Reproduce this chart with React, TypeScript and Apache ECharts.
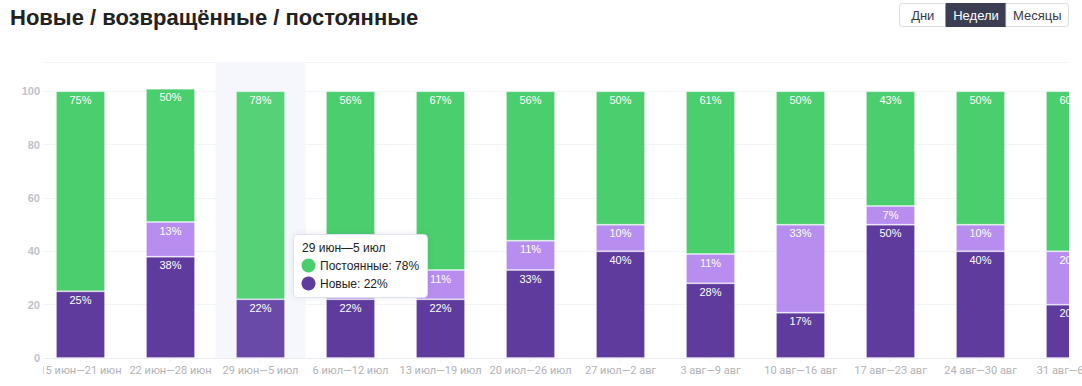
import React, { useEffect, useRef } from 'react';
import * as echarts from 'echarts';

const categories = [
  '15 июн—21 июн',
  '22 июн—28 июн',
  '29 июн—5 июл',
  '6 июл—12 июл',
  '13 июл—19 июл',
  '20 июл—26 июл',
  '27 июл—2 авг',
  '3 авг—9 авг',
  '10 авг—16 авг',
  '17 авг—23 авг',
  '24 авг—30 авг',
  '31 авг—6 сен',
];
const newUsers = [25, 38, 22, 22, 22, 33, 40, 28, 17, 50, 40, 20];
const returningUsers: (number | null)[] = [null, 13, null, 22, 11, 11, 10, 11, 33, 7, 10, 20];
const permanentUsers = [75, 50, 78, 56, 67, 56, 50, 61, 50, 43, 50, 60];
const yMax = 111;
const yInterval = 20;
const highlightIndex = 2;
const hiddenReturningLabel = 3; // covered by the tooltip in the reference
const seriesNames = ['Новые', 'Возвращённые', 'Постоянные'];
const periodButtons = ['Дни', 'Недели', 'Месяцы'];

const FONT = '"Liberation Sans", Arial, sans-serif';
const FONT_AXIS = 'Roboto, sans-serif';
const COLORS = {
  newC: '#5f3b9d',
  retC: '#b78ef0',
  permC: '#4bce6d',
  newHi: '#6a4aa9',
  retHi: '#bf9bf2',
  permHi: '#56d178',
};

export default function App() {
  const ref = useRef<HTMLDivElement>(null);
  useEffect(() => {
    const chart = echarts.init(ref.current!, null, { renderer: 'svg' });
    const mk = (arr: (number | null)[], hiColor: string, hideLabelAt = -1) =>
      arr.map((v, i) => {
        if (v == null) return v;
        if (i === highlightIndex) return { value: v, itemStyle: { color: hiColor } };
        if (i === hideLabelAt) return { value: v, label: { show: false } };
        return v;
      });
    const labelCfg = {
      show: true,
      position: 'insideTop',
      distance: 3,
      color: '#ffffff',
      fontSize: 11,
      fontFamily: FONT,
      formatter: (p: any) => (p.value == null ? '' : p.value + '%'),
    };
    const band = categories.map((_, i) => (i === highlightIndex ? yMax : null));

    // tooltip contents (top series first)
    const tipItems: { name: string; value: number; color: string }[] = [];
    const vals = [newUsers[highlightIndex], returningUsers[highlightIndex], permanentUsers[highlightIndex]];
    const cols = [COLORS.newC, COLORS.retC, COLORS.permC];
    for (let k = 2; k >= 0; k--) {
      if (vals[k] != null) tipItems.push({ name: seriesNames[k], value: vals[k] as number, color: cols[k] });
    }
    const tipX = 293.5;
    const tipY = 234.5;
    const TZ = 300;
    const tipEls: any[] = [
      {
        type: 'rect',
        z: TZ,
        shape: { x: tipX, y: tipY, width: 134, height: 18 * tipItems.length + 27, r: 4 },
        style: { fill: '#ffffff', stroke: '#dde3f3', lineWidth: 1, shadowBlur: 6, shadowColor: 'rgba(40,50,90,0.08)' },
      },
      {
        type: 'text',
        z: TZ + 1,
        x: tipX + 8.5,
        y: tipY + 13,
        style: { text: categories[highlightIndex], fill: '#222222', font: `12px ${FONT}`, verticalAlign: 'middle' },
      },
    ];
    tipItems.forEach((it, j) => {
      const cy = tipY + 31 + j * 18;
      tipEls.push({ type: 'circle', z: TZ + 1, shape: { cx: tipX + 15, cy, r: 7 }, style: { fill: it.color } });
      tipEls.push({
        type: 'text',
        z: TZ + 1,
        x: tipX + 26.5,
        y: cy,
        style: { text: `${it.name}: ${it.value}%`, fill: '#222222', font: `12px ${FONT}`, verticalAlign: 'middle' },
      });
    });

    // period buttons
    const btnX = [899.5, 946, 1006, 1068.5];
    const btnEls: any[] = [];
    periodButtons.forEach((b, i) => {
      const active = i === 1;
      btnEls.push({
        type: 'rect',
        z: 100,
        shape: { x: btnX[i], y: 3.5, width: btnX[i + 1] - btnX[i], height: 23, r: i === 0 ? [3, 0, 0, 3] : i === 2 ? [0, 3, 3, 0] : 0 },
        style: { fill: active ? '#3b3d52' : '#ffffff', stroke: active ? '#3b3d52' : '#dcdde2', lineWidth: 1 },
      });
      btnEls.push({
        type: 'text',
        z: 101,
        x: (btnX[i] + btnX[i + 1]) / 2,
        y: 15,
        style: {
          text: b,
          fill: active ? '#ffffff' : '#3a3a48',
          font: `13px ${FONT}`,
          align: 'center',
          verticalAlign: 'middle',
        },
      });
    });

    chart.setOption({
      animation: false,
      grid: { left: 35.5, top: 62, width: 1080, height: 296, containLabel: false },
      xAxis: [
        {
          type: 'category',
          data: categories,
          axisLine: { lineStyle: { color: '#eceef3' } },
          axisTick: { show: true, alignWithLabel: true, length: 4, lineStyle: { color: '#f0f1f5' } },
          axisLabel: { color: '#b2b2b6', fontSize: 11, fontFamily: FONT_AXIS, margin: 7, interval: 0 },
        },
        { type: 'category', data: categories, show: false },
      ],
      yAxis: [
        {
          type: 'value',
          position: 'left',
          min: 0,
          max: yMax,
          interval: yInterval,
          axisLabel: { show: false },
          axisLine: { show: false },
          axisTick: { show: false },
          splitLine: { lineStyle: { color: '#f3f4f8' } },
        },
        {
          type: 'value',
          position: 'left',
          min: 0,
          max: yMax,
          interval: yInterval,
          offset: -12.5,
          z: 200,
          axisLine: { show: false },
          axisTick: { show: false },
          splitLine: { show: false },
          axisLabel: {
            color: '#bfc2cc',
            fontSize: 11,
            fontWeight: 'bold',
            fontFamily: FONT,
            margin: 8,
            showMaxLabel: false,
          },
        },
      ],
      series: [
        {
          type: 'bar',
          xAxisIndex: 1,
          yAxisIndex: 0,
          barWidth: '100%',
          data: band,
          itemStyle: { color: '#f6f7fd' },
          silent: true,
          z: 1,
        },
        {
          name: seriesNames[0],
          type: 'bar',
          stack: 'users',
          barWidth: 49,
          data: mk(newUsers, COLORS.newHi),
          itemStyle: { color: COLORS.newC, borderColor: 'rgba(255,255,255,0.22)', borderWidth: 1 },
          label: labelCfg,
          z: 2,
        },
        {
          name: seriesNames[1],
          type: 'bar',
          stack: 'users',
          barWidth: 49,
          data: mk(returningUsers, COLORS.retHi, hiddenReturningLabel),
          itemStyle: { color: COLORS.retC, borderColor: 'rgba(255,255,255,0.22)', borderWidth: 1 },
          label: labelCfg,
          z: 2,
        },
        {
          name: seriesNames[2],
          type: 'bar',
          stack: 'users',
          barWidth: 49,
          data: mk(permanentUsers, COLORS.permHi),
          itemStyle: { color: COLORS.permC, borderColor: 'rgba(255,255,255,0.22)', borderWidth: 1 },
          label: labelCfg,
          z: 2,
        },
      ],
      graphic: [
        { type: 'rect', z: 100, silent: true, shape: { x: 0, y: 40, width: 43, height: 346 }, style: { fill: '#ffffff' } },
        { type: 'rect', z: 100, silent: true, shape: { x: 1069, y: 40, width: 80, height: 320 }, style: { fill: '#ffffff' } },
        {
          type: 'text',
          z: 100,
          x: 10,
          y: 17.5,
          style: {
            text: 'Новые / возвращённые / постоянные',
            fill: '#222222',
            font: `bold 22px ${FONT}`,
            verticalAlign: 'middle',
          },
        },
        ...btnEls,
        ...tipEls,
      ],
    });
    return () => chart.dispose();
  }, []);
  return (
    <div style={{ position: 'absolute', left: 0, top: 0, width: 1082, height: 386, overflow: 'hidden' }}>
      <div ref={ref} style={{ width: 1130, height: 386 }} />
    </div>
  );
}
